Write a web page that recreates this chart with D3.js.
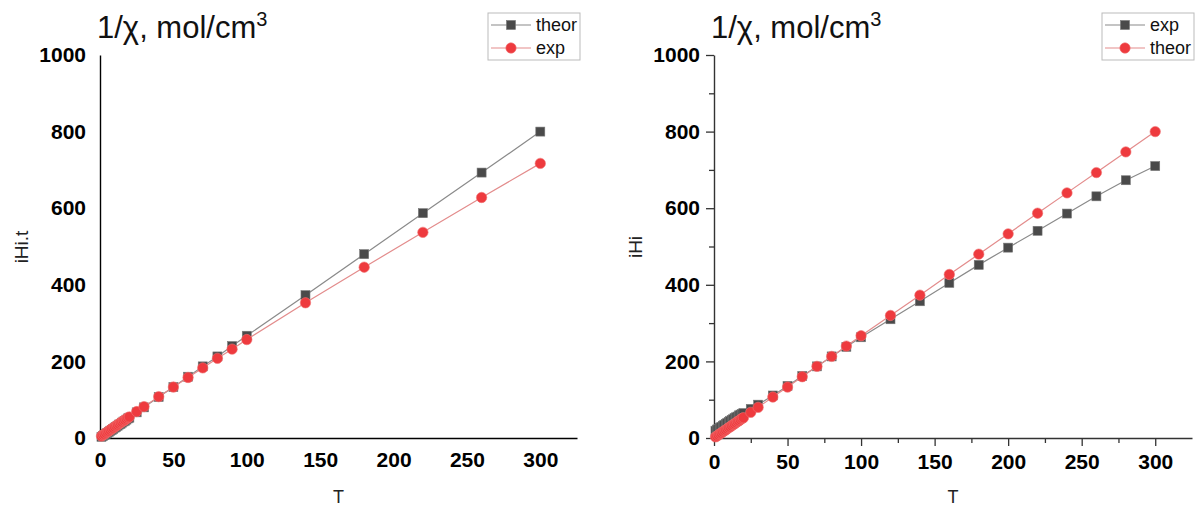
<!DOCTYPE html>
<html lang="en">
<head>
    <meta charset="utf-8">
    <title>1/chi vs T</title>
    <script src="https://d3js.org/d3.v7.min.js"></script>
    <style>
        body { margin: 0; background: #fff; font-family: 'Liberation Sans', Arial, sans-serif; }
        .tick text { font-weight: bold; font-size: 21px; fill: #000; font-family: 'Liberation Sans', Arial, sans-serif; }
    </style>
</head>
<body>
<div id="chart"></div>
<script>
    // Left panel data
    var leftT = [1,2,3,4,5,6,7,8,9,10,11,12,13,14,15,16,17,18,19,20,25,30,40,50,60,70,80,90,100,140,180,220,260,300];
    var leftTheor = [3,5,8,11,13,16,19,21,24,27,29,32,35,37,40,43,45,48,51,53,67,80,107,133,160,187,213,240,267,373,480,587,693,800];
    var leftExp = [5,8,10,13,16,18,21,24,26,29,32,34,37,40,42,45,47,50,53,55,69,82,108,133,158,183,208,232,257,353,446,537,628,717];

    // Right panel data
    var rightT = [1,2,3,4,5,6,7,8,9,10,11,12,13,14,15,16,17,18,19,20,25,30,40,50,60,70,80,90,100,120,140,160,180,200,220,240,260,280,300];
    var rightExp = [19,22,24,27,29,32,34,37,39,42,44,47,49,52,54,56,59,61,63,65,76,87,111,136,162,187,213,238,263,310,357,405,452,497,541,586,631,673,710];
    var rightTheor = [3,5,8,11,13,16,19,21,24,27,29,32,35,37,40,43,45,48,51,53,67,80,107,133,160,187,213,240,267,320,373,427,480,533,587,640,693,747,800];

    var xTicks = [0,50,100,150,200,250,300];
    var yTicks = [0,200,400,600,800,1000];
    var xMinor = [25,75,125,175,225,275];
    var yMinor = [100,300,500,700,900];

    var grayMark = "#4a4a4a", grayLine = "#8a8a8a";
    var redMark = "#ee3a3e", redLine = "#e38c8c";

    var svg = d3.select("#chart").append("svg")
        .attr("width", 1199).attr("height", 508);

    function panel(opt) {
        var x = d3.scaleLinear().domain([0, 325]).range([opt.x0, opt.x1]);
        var y = d3.scaleLinear().domain([0, 1000]).range([438, 55]);
        var g = svg.append("g");

        // minor ticks (right panel only)
        if (opt.ticks) {
            g.append("g").attr("transform", "translate(0,438)")
                .call(d3.axisBottom(x).tickValues(xMinor).tickSize(5).tickFormat(""))
                .call(function(a){ a.select(".domain").remove(); a.selectAll("line").attr("stroke", "#333").attr("stroke-width", 1.3); });
            g.append("g").attr("transform", "translate(" + opt.x0 + ",0)")
                .call(d3.axisLeft(y).tickValues(yMinor).tickSize(5).tickFormat(""))
                .call(function(a){ a.select(".domain").remove(); a.selectAll("line").attr("stroke", "#333").attr("stroke-width", 1.3); });
        }
        var tk = opt.ticks ? 8 : 0;
        var xa = g.append("g").attr("transform", "translate(0,438)")
            .call(d3.axisBottom(x).tickValues(xTicks).tickFormat(d3.format("d"))
                .tickSize(tk).tickSizeOuter(0).tickPadding(opt.ticks ? 8 : 14));
        var ya = g.append("g").attr("transform", "translate(" + opt.x0 + ",0)")
            .call(d3.axisLeft(y).tickValues(yTicks).tickFormat(d3.format("d"))
                .tickSize(tk).tickSizeOuter(0).tickPadding(opt.ticks ? 6 : 14));
        [xa, ya].forEach(function(a) {
            a.select(".domain").attr("stroke", opt.ticks ? "#333" : "#000").attr("stroke-width", 1.4);
            a.selectAll(".tick line").attr("stroke", "#333").attr("stroke-width", 1.3);
        });

        // axis titles
        g.append("text").attr("x", (opt.x0 + opt.x1) / 2).attr("y", 503)
            .attr("text-anchor", "middle").style("font-size", "18px").attr("fill", "#222").text("T");
        g.append("text").attr("transform", "translate(" + (opt.x0 - 72) + ",247) rotate(-90)")
            .attr("text-anchor", "middle").style("font-size", "19px").attr("fill", "#222").text(opt.ylabel);

        // chart title
        var t = g.append("text").attr("x", opt.x0 - 3).attr("y", 38)
            .style("font-size", "31px").attr("fill", "#111");
        t.append("tspan").text("1/\u03c7, mol/cm");
        t.append("tspan").attr("dy", -12).style("font-size", "20px").text("3");

        var line = d3.line().x(function(d){ return x(d[0]); }).y(function(d){ return y(d[1]); });

        opt.series.forEach(function(s) {
            var pts = opt.T.map(function(t, i){ return [t, s.values[i]]; });
            g.append("path").datum(pts).attr("d", line)
                .attr("fill", "none").attr("stroke", s.lineColor).attr("stroke-width", 1.2);
            if (s.shape === "square") {
                g.selectAll(null).data(pts).enter().append("rect")
                    .attr("x", function(d){ return x(d[0]) - 4.5; })
                    .attr("y", function(d){ return y(d[1]) - 4.5; })
                    .attr("width", 9).attr("height", 9)
                    .attr("fill", s.color).attr("stroke", "#777").attr("stroke-width", 0.6);
            } else {
                g.selectAll(null).data(pts).enter().append("circle")
                    .attr("cx", function(d){ return x(d[0]); })
                    .attr("cy", function(d){ return y(d[1]); })
                    .attr("r", 5.2)
                    .attr("fill", s.color).attr("stroke", "#f07070").attr("stroke-width", 0.6);
            }
        });

        // legend
        var lg = g.append("g").attr("transform", "translate(" + opt.legendX + ",13)");
        lg.append("rect").attr("width", 92).attr("height", 47)
            .attr("fill", "#fff").attr("stroke", "#bbb").attr("stroke-width", 1);
        opt.legend.forEach(function(s, i) {
            var cy = 12 + i * 23;
            lg.append("line").attr("x1", 3).attr("x2", 43).attr("y1", cy).attr("y2", cy)
                .attr("stroke", s.lineColor).attr("stroke-width", 1.2);
            if (s.shape === "square") {
                lg.append("rect").attr("x", 18.5).attr("y", cy - 4.5).attr("width", 9).attr("height", 9)
                    .attr("fill", s.color).attr("stroke", "#777").attr("stroke-width", 0.6);
            } else {
                lg.append("circle").attr("cx", 23).attr("cy", cy).attr("r", 5.2)
                    .attr("fill", s.color).attr("stroke", "#f07070").attr("stroke-width", 0.6);
            }
            lg.append("text").attr("x", 48).attr("y", cy + 6)
                .style("font-size", "18px").attr("fill", "#111").text(s.name);
        });
    }

    var sTheorL = {name: "theor", values: leftTheor, shape: "square", color: grayMark, lineColor: grayLine};
    var sExpL = {name: "exp", values: leftExp, shape: "circle", color: redMark, lineColor: redLine};
    panel({x0: 100, x1: 577, T: leftT, ticks: false, ylabel: "iHi.t", legendX: 488,
        series: [sTheorL, sExpL], legend: [sTheorL, sExpL]});

    var sExpR = {name: "exp", values: rightExp, shape: "square", color: grayMark, lineColor: grayLine};
    var sTheorR = {name: "theor", values: rightTheor, shape: "circle", color: redMark, lineColor: redLine};
    panel({x0: 714, x1: 1192, T: rightT, ticks: true, ylabel: "iHi", legendX: 1102,
        series: [sExpR, sTheorR], legend: [sExpR, sTheorR]});
</script>
</body>
</html>
